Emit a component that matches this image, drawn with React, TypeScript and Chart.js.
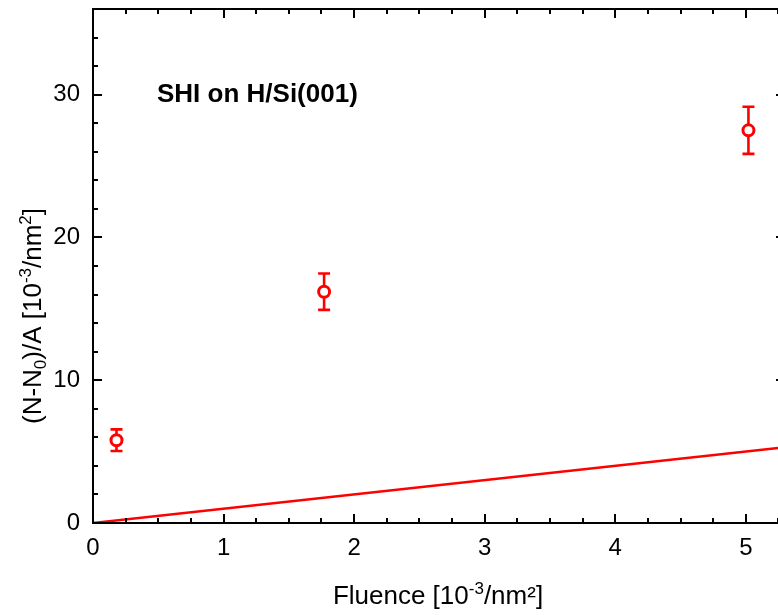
import React, { useEffect, useRef } from "react";
import { Chart, registerables } from "chart.js";

Chart.register(...registerables);

// ---- data ----
const pointX = [0.18, 1.77, 5.02];
const pointY = [5.8, 16.2, 27.5];
const pointErr = [0.76, 1.27, 1.65];
const lineX = [0, 5.3];
const lineY = [0, 5.3];
const xTickValues = [0, 1, 2, 3, 4, 5];
const yTickValues = [0, 10, 20, 30];
const X_MIN = 0;
const X_MAX = 5.3;
const Y_MIN = 0;
const Y_MAX = 36;
const X_MINOR = 0.25;
const Y_MINOR = 2;
const chartTitle = "SHI on H/Si(001)";

const RED = "#ff0000";
const FONT = "'Liberation Sans', Arial, Helvetica, sans-serif";
const TICK_SIZE = 24;
const TITLE_SIZE = 26;

type Part = { t: string; s?: "sup" | "sub" };

const xTitleParts: Part[] = [
  { t: "Fluence [10" },
  { t: "-3", s: "sup" },
  { t: "/nm\u00b2]" },
];
const yTitleParts: Part[] = [
  { t: "(N-N" },
  { t: "0", s: "sub" },
  { t: ")/A [10" },
  { t: "-3", s: "sup" },
  { t: "/nm" },
  { t: "2", s: "sup" },
  { t: "]" },
];

function drawRich(ctx: CanvasRenderingContext2D, parts: Part[], cx: number, baseline: number, size: number) {
  const small = Math.round(size * 0.66);
  const widths = parts.map((p) => {
    ctx.font = `${p.s ? small : size}px ${FONT}`;
    return ctx.measureText(p.t).width;
  });
  const total = widths.reduce((a, b) => a + b, 0);
  let x = cx - total / 2;
  ctx.textAlign = "left";
  ctx.textBaseline = "alphabetic";
  parts.forEach((p, i) => {
    ctx.font = `${p.s ? small : size}px ${FONT}`;
    let y = baseline;
    if (p.s === "sup") y = baseline - size * 0.38;
    if (p.s === "sub") y = baseline + size * 0.2;
    ctx.fillText(p.t, x, y);
    x += widths[i];
  });
}

const framePlugin = {
  id: "framePlugin",
  beforeDatasetsDraw(chart: any) {
    const { ctx, scales } = chart;
    const x = scales.x;
    const y = scales.y;
    ctx.save();
    ctx.beginPath();
    ctx.rect(chart.chartArea.left, chart.chartArea.top, chart.chartArea.right - chart.chartArea.left, chart.chartArea.bottom - chart.chartArea.top);
    ctx.clip();
    ctx.strokeStyle = RED;
    ctx.lineWidth = 2.6;
    pointX.forEach((px, i) => {
      const cx = x.getPixelForValue(px);
      const top = y.getPixelForValue(pointY[i] + pointErr[i]);
      const bot = y.getPixelForValue(pointY[i] - pointErr[i]);
      ctx.beginPath();
      ctx.moveTo(cx, top);
      ctx.lineTo(cx, bot);
      ctx.moveTo(cx - 6, top);
      ctx.lineTo(cx + 6, top);
      ctx.moveTo(cx - 6, bot);
      ctx.lineTo(cx + 6, bot);
      ctx.stroke();
    });
    ctx.restore();
  },
  afterDraw(chart: any) {
    const { ctx, chartArea, scales } = chart;
    const x = scales.x;
    const y = scales.y;
    const { left, right, top, bottom } = chartArea;
    ctx.save();
    ctx.strokeStyle = "#000";
    ctx.lineWidth = 2;
    ctx.lineCap = "butt";
    ctx.strokeRect(left, top, right - left, bottom - top);

    const MAJ = 9;
    const MIN = 5;
    ctx.beginPath();
    const nx = Math.round((X_MAX - X_MIN) / X_MINOR);
    for (let i = 0; i <= nx; i++) {
      const v = X_MIN + i * X_MINOR;
      const px = Math.round(x.getPixelForValue(v));
      const major = xTickValues.some((t) => Math.abs(t - v) < 1e-6);
      const len = major ? MAJ : MIN;
      ctx.moveTo(px, bottom);
      ctx.lineTo(px, bottom - len);
      ctx.moveTo(px, top);
      ctx.lineTo(px, top + len);
    }
    const ny = Math.round((Y_MAX - Y_MIN) / Y_MINOR);
    for (let i = 0; i <= ny; i++) {
      const v = Y_MIN + i * Y_MINOR;
      const py = Math.round(y.getPixelForValue(v));
      const major = yTickValues.some((t) => Math.abs(t - v) < 1e-6);
      const len = major ? MAJ : MIN;
      ctx.moveTo(left, py);
      ctx.lineTo(left + len, py);
      ctx.moveTo(right, py);
      ctx.lineTo(right - len, py);
    }
    ctx.stroke();

    ctx.fillStyle = "#000";
    ctx.font = `bold 26px ${FONT}`;
    ctx.textAlign = "left";
    ctx.textBaseline = "middle";
    ctx.fillText(chartTitle, 157, y.getPixelForValue(30));

    drawRich(ctx, xTitleParts, 438, 604, TITLE_SIZE);

    ctx.save();
    ctx.translate(41, 316);
    ctx.rotate(-Math.PI / 2);
    drawRich(ctx, yTitleParts, 0, 0, TITLE_SIZE);
    ctx.restore();

    ctx.restore();
  },
};

export default function App() {
  const ref = useRef<HTMLCanvasElement | null>(null);
  useEffect(() => {
    document.body.style.margin = "0";
    if (!ref.current) return;
    const chart = new Chart(ref.current, {
      type: "scatter",
      data: {
        datasets: [
          {
            label: "fit",
            data: lineX.map((v, i) => ({ x: v, y: lineY[i] })),
            showLine: true,
            borderColor: RED,
            borderWidth: 2.5,
            pointRadius: 0,
            fill: false,
          },
          {
            label: "data",
            data: pointX.map((v, i) => ({ x: v, y: pointY[i] })),
            showLine: false,
            pointStyle: "circle",
            pointRadius: 5.5,
            borderColor: RED,
            backgroundColor: "#ffffff",
            pointBackgroundColor: "#ffffff",
            pointBorderColor: RED,
            pointBorderWidth: 3,
          },
        ],
      },
      options: {
        animation: false,
        responsive: false,
        devicePixelRatio: 1,
        layout: { padding: { top: 9, right: 15, left: 0, bottom: 0 } },
        plugins: {
          legend: { display: false },
          tooltip: { enabled: false },
          title: { display: false },
        },
        scales: {
          x: {
            type: "linear",
            min: X_MIN,
            max: X_MAX,
            grid: { display: false, drawTicks: false },
            border: { display: false },
            afterFit: (s: any) => {
              s.height = 92;
              s.paddingLeft = 0;
              s.paddingRight = 0;
            },
            afterBuildTicks: (s: any) => {
              s.ticks = xTickValues.map((v) => ({ value: v }));
            },
            ticks: {
              padding: 11,
              color: "#000",
              font: { size: TICK_SIZE, family: FONT },
              maxRotation: 0,
              autoSkip: false,
            },
          },
          y: {
            type: "linear",
            min: Y_MIN,
            max: Y_MAX,
            grid: { display: false, drawTicks: false },
            border: { display: false },
            afterFit: (s: any) => {
              s.width = 93;
              s.paddingTop = 0;
              s.paddingBottom = 0;
            },
            afterBuildTicks: (s: any) => {
              s.ticks = yTickValues.map((v) => ({ value: v }));
            },
            ticks: {
              padding: 13,
              color: "#000",
              font: { size: TICK_SIZE, family: FONT },
              autoSkip: false,
            },
          },
        },
      },
      plugins: [framePlugin],
    } as any);
    return () => chart.destroy();
  }, []);
  return (
    <div style={{ position: "fixed", left: 0, top: 0, width: 800, height: 615, background: "#fff" }}>
      <canvas ref={ref} width={800} height={615} />
    </div>
  );
}
